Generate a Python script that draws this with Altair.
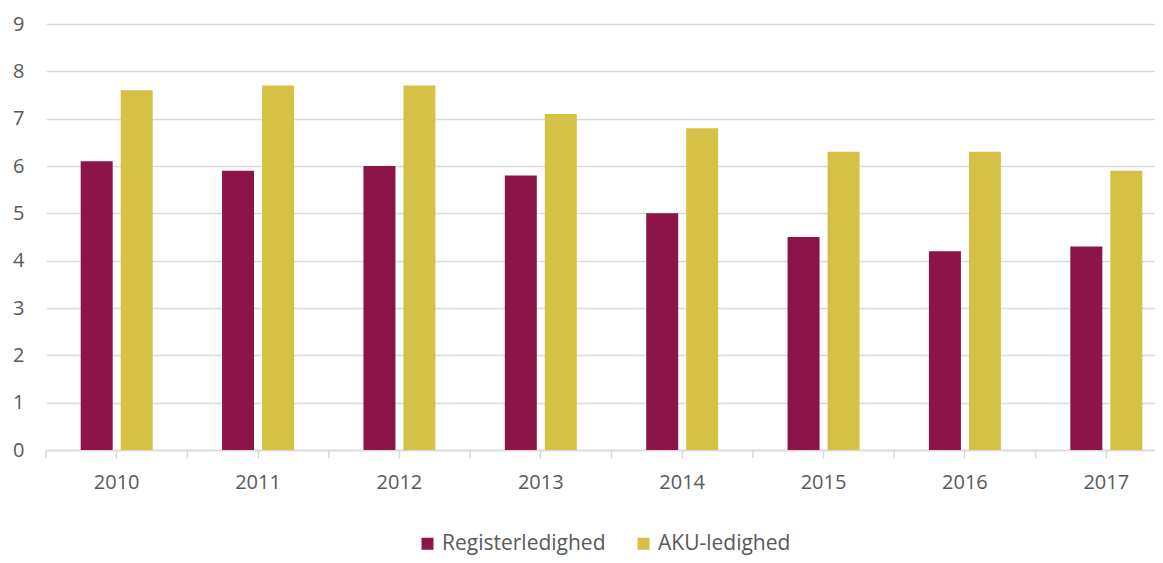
import altair as alt
import pandas as pd

years = ["2010", "2011", "2012", "2013", "2014", "2015", "2016", "2017"]
register = [6.1, 5.9, 6.0, 5.8, 5.0, 4.5, 4.2, 4.3]
aku = [7.6, 7.7, 7.7, 7.1, 6.8, 6.3, 6.3, 5.9]
series = ["Registerledighed", "AKU-ledighed"]
colors = ["#8C1448", "#D5C145"]
y_ticks = [0, 1, 2, 3, 4, 5, 6, 7, 8, 9]

rows = []
for i, yr in enumerate(years):
    rows.append({"year": yr, "series": series[0], "value": register[i]})
    rows.append({"year": yr, "series": series[1], "value": aku[i]})
df = pd.DataFrame(rows)
df_years = pd.DataFrame({"year": years})

font = "Open Sans"
grey = "#595959"
line = "#d9d9d9"

xscale = alt.Scale(domain=years, range=[0, 1131], paddingInner=0, paddingOuter=0)
xaxis = alt.Axis(
    title=None, labelAngle=0, labelFont=font, labelFontSize=20,
    labelColor=grey, labelPadding=14, tickColor=line, tickSize=8,
    tickWidth=1.5, domainColor=line, domainWidth=1.5, grid=False,
)

bars = alt.Chart(df).mark_bar().encode(
    x=alt.X("year:N", sort=years, scale=xscale, axis=xaxis),
    xOffset=alt.XOffset(
        "series:N", sort=series,
        scale=alt.Scale(domain=series, paddingInner=0.2, paddingOuter=0.8675),
    ),
    y=alt.Y(
        "value:Q",
        scale=alt.Scale(domain=[0, 9], nice=False),
        axis=alt.Axis(
            title=None, values=y_ticks, ticks=False, domain=False,
            gridColor=line, gridWidth=1.5, labelFont=font, labelFontSize=20,
            labelColor=grey, labelPadding=22,
        ),
    ),
    color=alt.Color(
        "series:N", sort=series,
        scale=alt.Scale(domain=series, range=colors),
        legend=alt.Legend(
            title=None, orient="none", legendX=371, legendY=509,
            direction="horizontal", symbolType="square", symbolSize=144,
            labelFont=font, labelFontSize=21, labelColor=grey, labelOffset=4,
            labelLimit=400, columnPadding=27, symbolStrokeWidth=0, padding=0,
        ),
    ),
)

bound_ticks = alt.Chart(df_years).mark_rule(color=line, strokeWidth=1.5).encode(
    x=alt.X("year:N", sort=years, scale=xscale, bandPosition=0, axis=xaxis),
    y=alt.value(426),
    y2=alt.value(434),
)

chart = alt.layer(bars, bound_ticks).properties(
    width=1109,
    height=426,
    autosize=alt.AutoSizeParams(type="none"),
    padding={"left": 38, "top": 16, "right": 0, "bottom": 105},
    background="white",
).configure_view(stroke=None)

chart.save("out.html", embed_options={"renderer": "svg", "actions": False})
